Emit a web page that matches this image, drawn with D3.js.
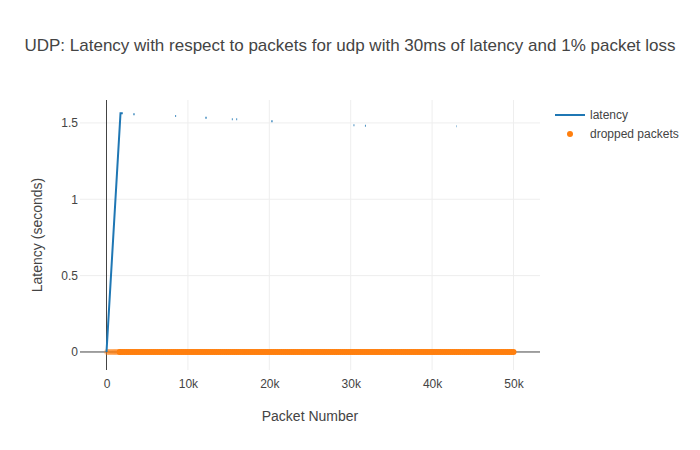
<!DOCTYPE html>
<html><head><meta charset="utf-8">
<script src="https://cdn.jsdelivr.net/npm/d3@7"></script>
<style>body{margin:0;background:#fff}svg{font-family:"Liberation Sans",Arial,sans-serif}</style>
</head><body><svg id="c" width="700" height="450"></svg>
<script>
const title = "UDP: Latency with respect to packets for udp with 30ms of latency and 1% packet loss";
const xTicks = [0, 10000, 20000, 30000, 40000, 50000];
const xTickLabels = ["0", "10k", "20k", "30k", "40k", "50k"];
const yTicks = [0, 0.5, 1, 1.5];
const yTickLabels = ["0", "0.5", "1", "1.5"];
// latency trace (null = gap)
const latencyPacket = [0, 1720, 2000, null, 3300, 3450, null, 8450, 8550, null, 12150, 12300, null, 15400, 15500, null, 15950, 16050, null, 20250, 20400, null, 30350, 30450, null, 31750, 31850, null, 42950, 43000];
const latencyValue = [0, 1.563, 1.563, null, 1.557, 1.557, null, 1.545, 1.545, null, 1.534, 1.534, null, 1.524, 1.524, null, 1.524, 1.524, null, 1.511, 1.511, null, 1.485, 1.485, null, 1.482, 1.482, null, 1.478, 1.478];
// dropped packets (latency 0)
const droppedEarly = [60, 210, 380, 520, 700, 850, 990, 1130, 1290, 1420];
const droppedPacket = [1600,1750,2000,2250,2500,2750,3000,3250,3500,3750,4000,4250,4500,4750,5000,5250,5500,5750,6000,6250,6500,6750,7000,7250,7500,7750,8000,8250,8500,8750,9000,9250,9500,9750,10000,10250,10500,10750,11000,11250,11500,11750,12000,12250,12500,12750,13000,13250,13500,13750,14000,14250,14500,14750,15000,15250,15500,15750,16000,16250,16500,16750,17000,17250,17500,17750,18000,18250,18500,18750,19000,19250,19500,19750,20000,20250,20500,20750,21000,21250,21500,21750,22000,22250,22500,22750,23000,23250,23500,23750,24000,24250,24500,24750,25000,25250,25500,25750,26000,26250,26500,26750,27000,27250,27500,27750,28000,28250,28500,28750,29000,29250,29500,29750,30000,30250,30500,30750,31000,31250,31500,31750,32000,32250,32500,32750,33000,33250,33500,33750,34000,34250,34500,34750,35000,35250,35500,35750,36000,36250,36500,36750,37000,37250,37500,37750,38000,38250,38500,38750,39000,39250,39500,39750,40000,40250,40500,40750,41000,41250,41500,41750,42000,42250,42500,42750,43000,43250,43500,43750,44000,44250,44500,44750,45000,45250,45500,45750,46000,46250,46500,46750,47000,47250,47500,47750,48000,48250,48500,48750,49000,49250,49500,49750,50000];

const svg = d3.select("#c");
const L = 80, R = 540, T = 100, B = 370;
const x = d3.scaleLinear().domain([-3256, 53256]).range([L, R]);
const y = d3.scaleLinear().domain([-0.118, 1.650]).range([B, T]);
const FONT = "'Liberation Sans',Arial,sans-serif";

// grid
svg.append("g").selectAll("line").data(xTicks.filter(d => d !== 0)).join("line")
  .attr("x1", d => x(d)).attr("x2", d => x(d)).attr("y1", T).attr("y2", B)
  .attr("stroke", "#eee").attr("stroke-width", 1);
svg.append("g").selectAll("line").data(yTicks.filter(d => d !== 0)).join("line")
  .attr("y1", d => y(d)).attr("y2", d => y(d)).attr("x1", L).attr("x2", R)
  .attr("stroke", "#eee").attr("stroke-width", 1);
// zero lines
svg.append("line").attr("x1", L).attr("x2", R).attr("y1", y(0)).attr("y2", y(0)).attr("stroke", "#444").attr("stroke-width", 1);
svg.append("line").attr("x1", x(0)).attr("x2", x(0)).attr("y1", T).attr("y2", B).attr("stroke", "#444").attr("stroke-width", 1);

// axes tick labels via d3 axes
const xAxis = d3.axisBottom(x).tickValues(xTicks).tickFormat((d, i) => xTickLabels[i]).tickSize(0).tickPadding(9);
const gx = svg.append("g").attr("transform", `translate(0,${B})`).call(xAxis);
gx.select(".domain").remove();
gx.selectAll("text").attr("fill", "#444").style("font-size", "12px").style("font-family", FONT);
const yAxis = d3.axisLeft(y).tickValues(yTicks).tickFormat((d, i) => yTickLabels[i]).tickSize(0).tickPadding(2);
const gy = svg.append("g").attr("transform", `translate(${L},0)`).call(yAxis);
gy.select(".domain").remove();
gy.selectAll("text").attr("fill", "#444").style("font-size", "12px").style("font-family", FONT);

// dropped markers
svg.append("defs").append("clipPath").attr("id", "clp").append("rect").attr("x", L).attr("y", T).attr("width", R - L).attr("height", B - T);
const plot = svg.append("g");
plot.selectAll("circle.e").data(droppedEarly).join("circle").attr("class", "e")
  .attr("cx", d => x(d)).attr("cy", y(0)).attr("r", 3).attr("fill", "#ff7f0e").attr("opacity", 0.3);
plot.selectAll("circle.d").data(droppedPacket).join("circle").attr("class", "d")
  .attr("cx", d => x(d)).attr("cy", y(0)).attr("r", 3).attr("fill", "#ff7f0e");

// latency line
const pts = latencyPacket.map((p, i) => ({p, v: latencyValue[i]}));
const line = d3.line().defined(d => d.p !== null && d.v !== null).x(d => x(d.p)).y(d => y(d.v));
plot.append("path").datum(pts).attr("d", line).attr("fill", "none").attr("stroke", "#1f77b4").attr("stroke-width", 2).attr("clip-path", "url(#clp)");

// titles
svg.append("text").attr("x", 350).attr("y", 51).attr("text-anchor", "middle").attr("fill", "#444").style("font-size", "17px").style("font-family", FONT).text(title);
svg.append("text").attr("x", 310).attr("y", 421).attr("text-anchor", "middle").attr("fill", "#444").style("font-size", "14px").style("font-family", FONT).text("Packet Number");
svg.append("text").attr("transform", "translate(42,235) rotate(-90)").attr("text-anchor", "middle").attr("fill", "#444").style("font-size", "14px").style("font-family", FONT).text("Latency (seconds)");

// legend
const lg = svg.append("g");
lg.append("line").attr("x1", 555).attr("x2", 585).attr("y1", 115).attr("y2", 115).attr("stroke", "#1f77b4").attr("stroke-width", 2);
lg.append("text").attr("x", 590).attr("y", 119).attr("fill", "#444").style("font-size", "12px").style("font-family", FONT).text("latency");
lg.append("circle").attr("cx", 570).attr("cy", 134).attr("r", 3).attr("fill", "#ff7f0e");
lg.append("text").attr("x", 590).attr("y", 138).attr("fill", "#444").style("font-size", "12px").style("font-family", FONT).text("dropped packets");
</script></body></html>
